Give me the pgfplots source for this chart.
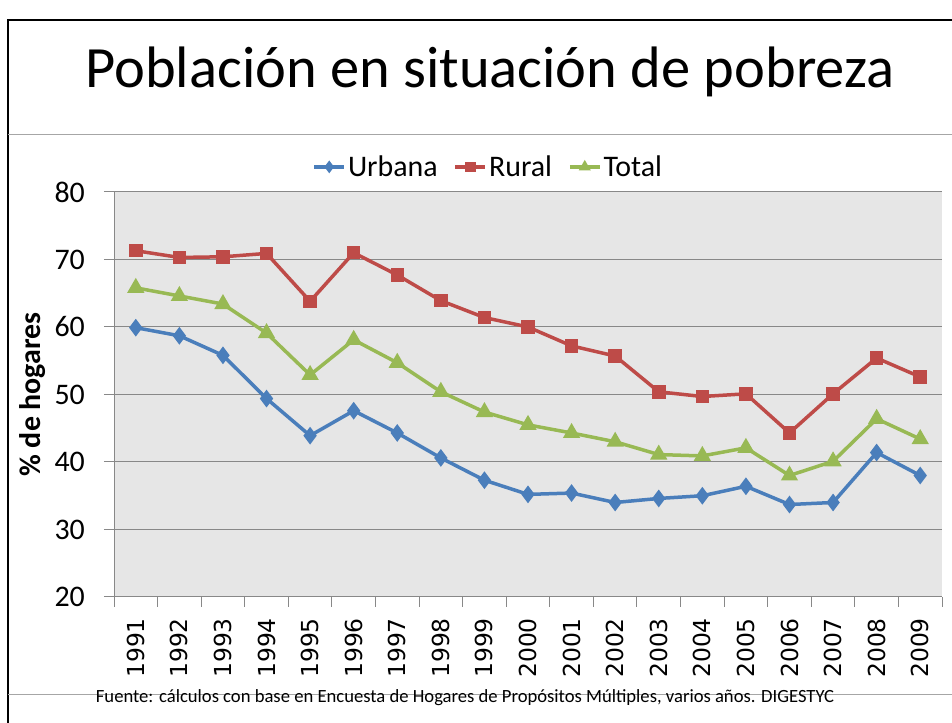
\documentclass[border=0pt]{standalone}
\usepackage{pgfplots}
\pgfplotsset{compat=1.18}
\usepackage{fontspec}
\setmainfont{Carlito}
\newfontfamily\dejavu{DejaVu Sans}
\definecolor{cblue}{HTML}{4A7EBB}
\definecolor{cred}{HTML}{BE4B48}
\definecolor{cgreen}{HTML}{98B954}
\definecolor{bggray}{HTML}{E6E6E6}
\definecolor{gridgray}{HTML}{888888}
\definecolor{linegray}{HTML}{A6A6A6}
\begin{document}
\begin{tikzpicture}[x=1bp,y=1bp]
\path[use as bounding box] (0,0) rectangle (952,723);
\draw[line width=2bp] (8,0) -- (8,703) -- (952,703);
\draw[linegray, line width=1bp] (8,588) -- (952,588);
\draw[linegray, line width=1bp] (8,28) -- (952,28);
\node[font=\fontsize{58.7}{62}\selectfont, anchor=base, inner sep=0pt] at (490,635) {Población en situación de pobreza};
\begin{axis}[
  at={(114bp,126bp)}, anchor=south west,
  width=828bp, height=405bp, scale only axis,
  /pgf/number format/assume math mode=true,
  xmin=-0.5, xmax=18.5, ymin=20, ymax=80,
  ytick={20,30,40,50,60,70,80},
  xtick={-0.5,0.5,1.5,2.5,3.5,4.5,5.5,6.5,7.5,8.5,9.5,10.5,11.5,12.5,13.5,14.5,15.5,16.5,17.5,18.5},
  xticklabels={1991,1992,1993,1994,1995,1996,1997,1998,1999,2000,2001,2002,2003,2004,2005,2006,2007,2008,2009},
  x tick label as interval,
  axis x line*=bottom, axis y line*=left,
  axis line style={draw=gridgray, line width=1bp},
  axis background/.style={fill=bggray},
  ymajorgrids, grid style={draw=gridgray, line width=1bp},
  tick align=outside, major tick length=10bp,
  tick style={draw=gridgray, line width=1bp},
  xticklabel style={font=\dejavu\fontsize{23.5}{25}\selectfont, rotate=90, anchor=east, inner sep=2bp, xshift=-9bp},
  yticklabel style={font=\fontsize{30}{32}\selectfont, anchor=east, inner sep=2bp, xshift=-17bp},
  ylabel={\textbf{\% de hogares}},
  ylabel style={font=\fontsize{30}{32}\selectfont, at={(axis description cs:-0.098,0.5)}, anchor=center, rotate=0},
  legend columns=3,
  legend style={at={(axis description cs:0.452,1.062)}, anchor=center, draw=none, fill=none,
    font=\fontsize{30}{32}\selectfont, inner sep=0pt,
    /tikz/every even column/.append style={column sep=14bp}},
  legend cell align=left,
  legend image code/.code={\draw[#1, mark size=3.5bp, mark repeat=2, mark phase=2] plot coordinates {(0bp,0bp) (15bp,0bp) (30bp,0bp)};},
  every axis plot/.append style={line width=3.5bp, mark options={solid}},
]
\addplot[cblue, mark=diamond*, mark size=6bp] coordinates {
(0,59.9) (1,58.7) (2,55.8) (3,49.4) (4,43.9) (5,47.6) (6,44.3) (7,40.6) (8,37.3) (9,35.2)
(10,35.4) (11,34.0) (12,34.6) (13,35.0) (14,36.4) (15,33.7) (16,34.0) (17,41.4) (18,38.0)};
\addlegendentry{Urbana}
\addplot[cred, mark=square*, mark size=5bp] coordinates {
(0,71.3) (1,70.3) (2,70.4) (3,70.9) (4,63.8) (5,71.0) (6,67.7) (7,63.9) (8,61.4) (9,60.0)
(10,57.2) (11,55.7) (12,50.4) (13,49.7) (14,50.1) (15,44.3) (16,50.1) (17,55.4) (18,52.6)};
\addlegendentry{Rural}
\addplot[cgreen, mark=triangle*, mark size=6.5bp] coordinates {
(0,65.8) (1,64.6) (2,63.4) (3,59.1) (4,52.9) (5,58.1) (6,54.7) (7,50.4) (8,47.4) (9,45.5)
(10,44.3) (11,43.0) (12,41.1) (13,40.9) (14,42.1) (15,38.0) (16,40.1) (17,46.4) (18,43.4)};
\addlegendentry{Total}
\end{axis}
\node[font=\fontsize{18.7}{20}\selectfont, anchor=base, inner sep=0pt] at (465,20) {Fuente: cálculos con base en Encuesta de Hogares de Propósitos Múltiples, varios años. DIGESTYC};
\end{tikzpicture}
\end{document}
